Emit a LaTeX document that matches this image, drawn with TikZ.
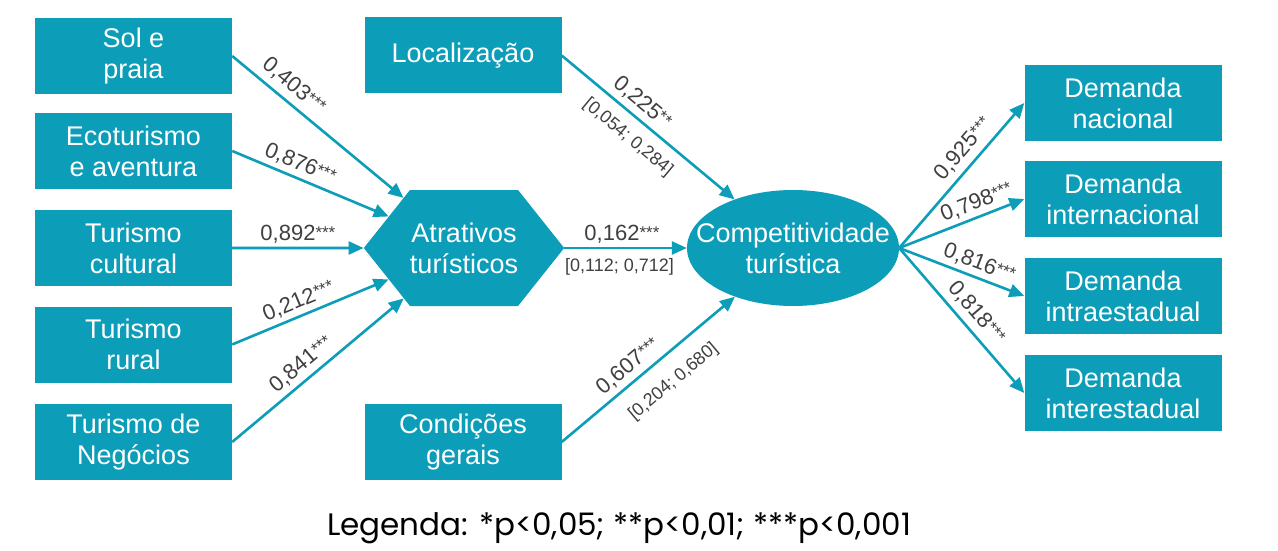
\documentclass[tikz,border=0pt]{standalone}
\usepackage{fontspec}
\setmainfont{Liberation Sans}
\newfontfamily\legfont{Poppins}
\usetikzlibrary{shapes.geometric,shapes.symbols,arrows.meta}
\definecolor{tealc}{RGB}{12,157,184}
\definecolor{lbl}{RGB}{64,64,64}
\newcommand\mystars[1]{\raisebox{2.5pt}{\fontsize{17}{17}\selectfont #1}}
\tikzset{
  boxnode/.style={fill=tealc, draw=none, text=white, minimum width=197pt, minimum height=76pt,
    inner sep=0pt, align=center, font=\fontsize{27}{31}\selectfont},
  link/.style={draw=tealc, line width=2.6pt, -{Triangle[length=15pt,width=13pt]}},
  coef/.style={text=lbl, font=\fontsize{22}{24}\selectfont, inner sep=2pt},
  ci/.style={text=lbl, font=\fontsize{18}{20}\selectfont, inner sep=2pt},
}
\begin{document}
\begin{tikzpicture}[x=1pt,y=-1pt]
\useasboundingbox (0,0) rectangle (1278,551);
\fill[white] (0,0) rectangle (1278,551);

% left column
\node[boxnode] (sol) at (133.5,56) {Sol e\\praia};
\node[boxnode] (eco) at (133.5,151) {Ecoturismo\\e aventura};
\node[boxnode] (cul) at (133.5,248) {Turismo\\cultural};
\node[boxnode] (rur) at (133.5,344.5) {Turismo\\rural};
\node[boxnode] (neg) at (133.5,442) {Turismo de\\Negócios};

% middle column
\node[boxnode] (loc) at (463,55.5) {Localização};
\node[boxnode] (con) at (463,442) {Condições\\gerais};
\node[signal, signal to=east and west, signal pointer angle=103, fill=tealc, text=white,
  minimum width=196pt, minimum height=116pt, inner sep=0pt, align=center,
  font=\fontsize{27}{31}\selectfont] (atr) at (464,248) {Atrativos\\turísticos};

% ellipse
\node[ellipse, fill=tealc, minimum width=212pt, minimum height=116pt, inner sep=0pt] (comp) at (793,248) {};
\node[text=white, align=center, inner sep=0pt, font=\fontsize{27}{31}\selectfont] (compt) at (comp.center)
  {Competitividade\\turística};

% right column
\node[boxnode] (dn) at (1123,103) {Demanda\\nacional};
\node[boxnode] (di) at (1123,199) {Demanda\\internacional};
\node[boxnode] (dr) at (1123,296) {Demanda\\intraestadual};
\node[boxnode] (de) at (1123,393) {Demanda\\interestadual};

% connectors left
\draw[link] (sol.east) -- node[coef, sloped, above=4pt, pos=0.3] {0,403\mystars{***}} (atr);
\draw[link] (eco.east) -- node[coef, sloped, above=2pt, pos=0.4] {0,876\mystars{***}} (atr);
\draw[link] (cul.east) -- node[coef, sloped, above=1pt, pos=0.5] {0,892\mystars{***}} (atr);
\draw[link] (rur.east) -- node[coef, sloped, above=2pt, pos=0.46] {0,212\mystars{***}} (atr);
\draw[link] (neg.east) -- node[coef, sloped, above=3pt, pos=0.46] {0,841\mystars{***}} (atr);

% connectors middle
\draw[link] (loc.east) -- node[coef, sloped, above=3pt, pos=0.41] {0,225\mystars{**}}
  node[ci, sloped, below=9pt, pos=0.46] {[0,054; 0,284]} (comp);
\draw[link] (atr.east) -- node[coef, sloped, above=1pt, pos=0.47] {0,162\mystars{***}}
  node[ci, sloped, below=7pt, pos=0.45] {[0,112; 0,712]} (comp);
\draw[link] (con.east) -- node[coef, sloped, above=3pt, pos=0.44] {0,607\mystars{***}}
  node[ci, sloped, below=14pt, pos=0.55] {[0,204; 0,680]} (comp);

% connectors right
\draw[link] (comp.east) -- node[coef, sloped, above=4pt, pos=0.61] {0,925\mystars{***}} (dn.west);
\draw[link] (comp.east) -- node[coef, sloped, above=2pt, pos=0.66] {0,798\mystars{***}} (di.west);
\draw[link] (comp.east) -- node[coef, sloped, above=2pt, pos=0.6] {0,816\mystars{***}} (dr.west);
\draw[link] (comp.east) -- node[coef, sloped, above=4pt, pos=0.52] {0,818\mystars{***}} (de.west);

% legend
\node[font=\legfont\fontsize{31}{34}\selectfont, text=black, inner sep=0pt] (leg) at (619,528)
  {Legenda: *p<0,05; **p<0,01; ***p<0,001};
\end{tikzpicture}
\end{document}
